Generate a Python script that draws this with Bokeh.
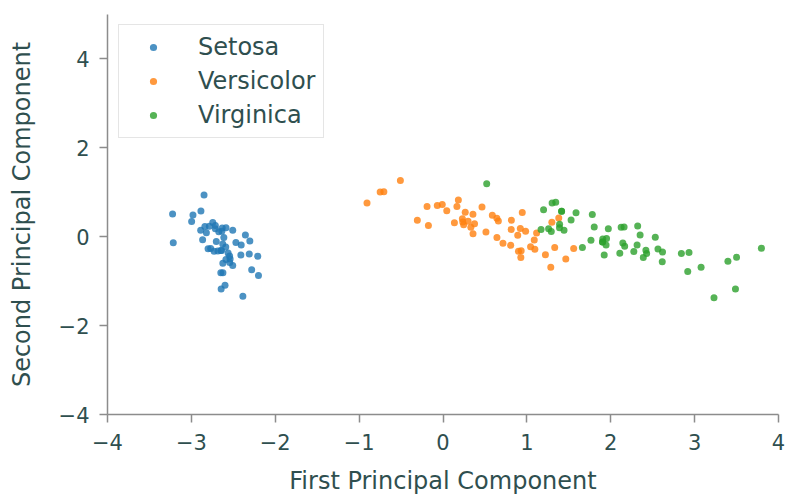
from bokeh.plotting import figure
from bokeh.models import (Range1d, FixedTicker, CustomJSTickFormatter, Legend, LegendItem,
                          ColumnDataSource)
from bokeh.embed import file_html
from bokeh.resources import INLINE

# Iris PCA projection (first two components)
setosa_pc1 = [-2.684, -2.714, -2.889, -2.745, -2.729, -2.281, -2.821, -2.626, -2.886, -2.673,
              -2.507, -2.613, -2.786, -3.224, -2.645, -2.386, -2.624, -2.648, -2.200, -2.588,
              -2.310, -2.544, -3.216, -2.303, -2.356, -2.507, -2.469, -2.562, -2.640, -2.632,
              -2.587, -2.410, -2.649, -2.599, -2.637, -2.866, -2.625, -2.801, -2.981, -2.590,
              -2.770, -2.849, -2.997, -2.406, -2.209, -2.714, -2.538, -2.839, -2.543, -2.703]
setosa_pc2 = [-0.319, 0.177, 0.145, 0.318, -0.327, -0.741, 0.089, -0.163, 0.578, 0.114,
              -0.645, -0.015, 0.235, 0.511, -1.179, -1.338, -0.811, -0.312, -0.873, -0.514,
              -0.391, -0.433, -0.133, -0.099, 0.037, 0.146, -0.131, -0.368, -0.312, 0.197,
              0.204, -0.411, -0.813, -1.093, 0.121, -0.069, -0.599, -0.269, 0.488, -0.229,
              -0.264, 0.941, 0.342, -0.189, -0.437, 0.250, -0.504, 0.228, -0.579, -0.108]
versicolor_pc1 = [1.285, 0.932, 1.464, 0.183, 1.088, 0.642, 1.095, -0.749, 1.044, -0.009,
                  -0.508, 0.512, 0.265, 0.985, -0.174, 0.928, 0.660, 0.236, 0.945, 0.045,
                  1.116, 0.358, 1.298, 0.922, 0.715, 0.900, 1.332, 1.558, 0.813, -0.306,
                  -0.068, -0.190, 0.136, 1.380, 0.588, 0.807, 1.221, 0.815, 0.246, 0.166,
                  0.465, 0.891, 0.231, -0.705, 0.357, 0.332, 0.376, 0.643, -0.906, 0.299]
versicolor_pc2 = [-0.685, -0.318, -0.504, 0.828, -0.075, 0.418, -0.283, 1.005, -0.228, 0.723,
                  1.266, 0.104, 0.550, 0.125, 0.255, -0.467, 0.353, 0.334, 0.543, 0.584,
                  0.085, 0.069, 0.328, 0.183, -0.149, -0.329, -0.244, -0.267, 0.163, 0.368,
                  0.705, 0.680, 0.314, 0.421, 0.484, -0.194, -0.408, 0.372, 0.269, 0.682,
                  0.671, 0.034, 0.404, 1.012, 0.505, 0.213, 0.293, -0.018, 0.756, 0.349]
virginica_pc1 = [2.531, 1.414, 2.617, 1.971, 2.350, 3.397, 0.521, 2.933, 2.321, 2.918,
                 1.662, 1.803, 2.166, 1.344, 1.586, 1.904, 1.950, 3.487, 3.796, 1.301,
                 2.428, 1.199, 3.500, 1.389, 2.275, 2.614, 1.259, 1.291, 2.124, 2.388,
                 2.842, 3.231, 2.159, 1.443, 1.780, 3.077, 2.144, 1.905, 1.169, 2.108,
                 2.314, 1.922, 1.414, 2.563, 2.419, 1.944, 1.527, 1.764, 1.901, 1.390]
virginica_pc2 = [-0.010, 0.575, -0.344, 0.180, 0.040, -0.551, 1.193, -0.356, 0.244, -0.783,
                 -0.242, 0.216, -0.216, 0.777, 0.540, -0.119, -0.042, -1.176, -0.257, 0.761,
                 -0.378, 0.606, -0.461, 0.204, -0.335, -0.561, 0.180, 0.117, 0.211, -0.465,
                 -0.375, -1.374, 0.217, 0.144, 0.501, -0.686, -0.139, -0.049, 0.165, -0.372,
                 -0.184, -0.409, 0.575, -0.278, -0.305, -0.188, 0.375, -0.079, -0.117, 0.283]

species = ["Setosa", "Versicolor", "Virginica"]
colors = ["#1f77b4", "#ff7f0e", "#2ca02c"]
x_ticks = [-4, -3, -2, -1, 0, 1, 2, 3, 4]
y_ticks = [-4, -2, 0, 2, 4]
x_title = "First Principal Component"
y_title = "Second Principal Component"

TEXT = "#2f4f4f"
SPINE = "#8c8c8c"

p = figure(width=786, height=498, output_backend="svg", toolbar_location=None,
           x_range=Range1d(-4, 4), y_range=Range1d(-4, 5),
           min_border_left=107, min_border_right=8, min_border_top=14, min_border_bottom=84)
p.outline_line_color = None
p.xgrid.visible = False
p.ygrid.visible = False
p.background_fill_color = "white"
p.border_fill_color = "white"

items = []
for name, xs, ys, c in zip(species,
                           [setosa_pc1, versicolor_pc1, virginica_pc1],
                           [setosa_pc2, versicolor_pc2, virginica_pc2],
                           colors):
    src = ColumnDataSource(dict(x=xs, y=ys))
    r = p.scatter("x", "y", source=src, size=7, fill_color=c, line_color=None, fill_alpha=0.8)
    items.append(LegendItem(label=name, renderers=[r]))

fmt = CustomJSTickFormatter(code="return tick.toFixed(0).replace('-', '\\u2212');")
for ax, ticks in ((p.xaxis[0], x_ticks), (p.yaxis[0], y_ticks)):
    ax.ticker = FixedTicker(ticks=ticks)
    ax.formatter = fmt
    ax.minor_tick_line_color = None
    ax.major_tick_in = 0
    ax.major_tick_out = 8
    ax.major_tick_line_color = SPINE
    ax.major_tick_line_width = 1.5
    ax.axis_line_color = SPINE
    ax.axis_line_width = 1.5
    ax.major_label_text_font = "DejaVu Sans"
    ax.major_label_text_font_size = "21px"
    ax.major_label_text_color = TEXT
    ax.axis_label_text_font = "DejaVu Sans"
    ax.axis_label_text_font_size = "24px"
    ax.axis_label_text_font_style = "normal"
    ax.axis_label_text_color = TEXT

p.xaxis.axis_label = x_title
p.yaxis.axis_label = y_title
p.xaxis.major_label_standoff = 11
p.yaxis.major_label_standoff = 10
p.xaxis.axis_label_standoff = 14
p.yaxis.axis_label_standoff = 20

legend = Legend(items=items, location=(11, 276), orientation="vertical")
legend.label_text_font = "DejaVu Sans"
legend.label_text_font_size = "24px"
legend.label_text_color = TEXT
legend.border_line_color = "#cccccc"
legend.border_line_width = 1.5
legend.background_fill_color = "white"
legend.background_fill_alpha = 0.8
legend.padding = 8
legend.spacing = 6
legend.glyph_width = 52
legend.glyph_height = 18
legend.label_height = 28
legend.label_standoff = 19
legend.margin = 0
p.add_layout(legend, "center")

open("out.html", "w").write(file_html(p, INLINE))
